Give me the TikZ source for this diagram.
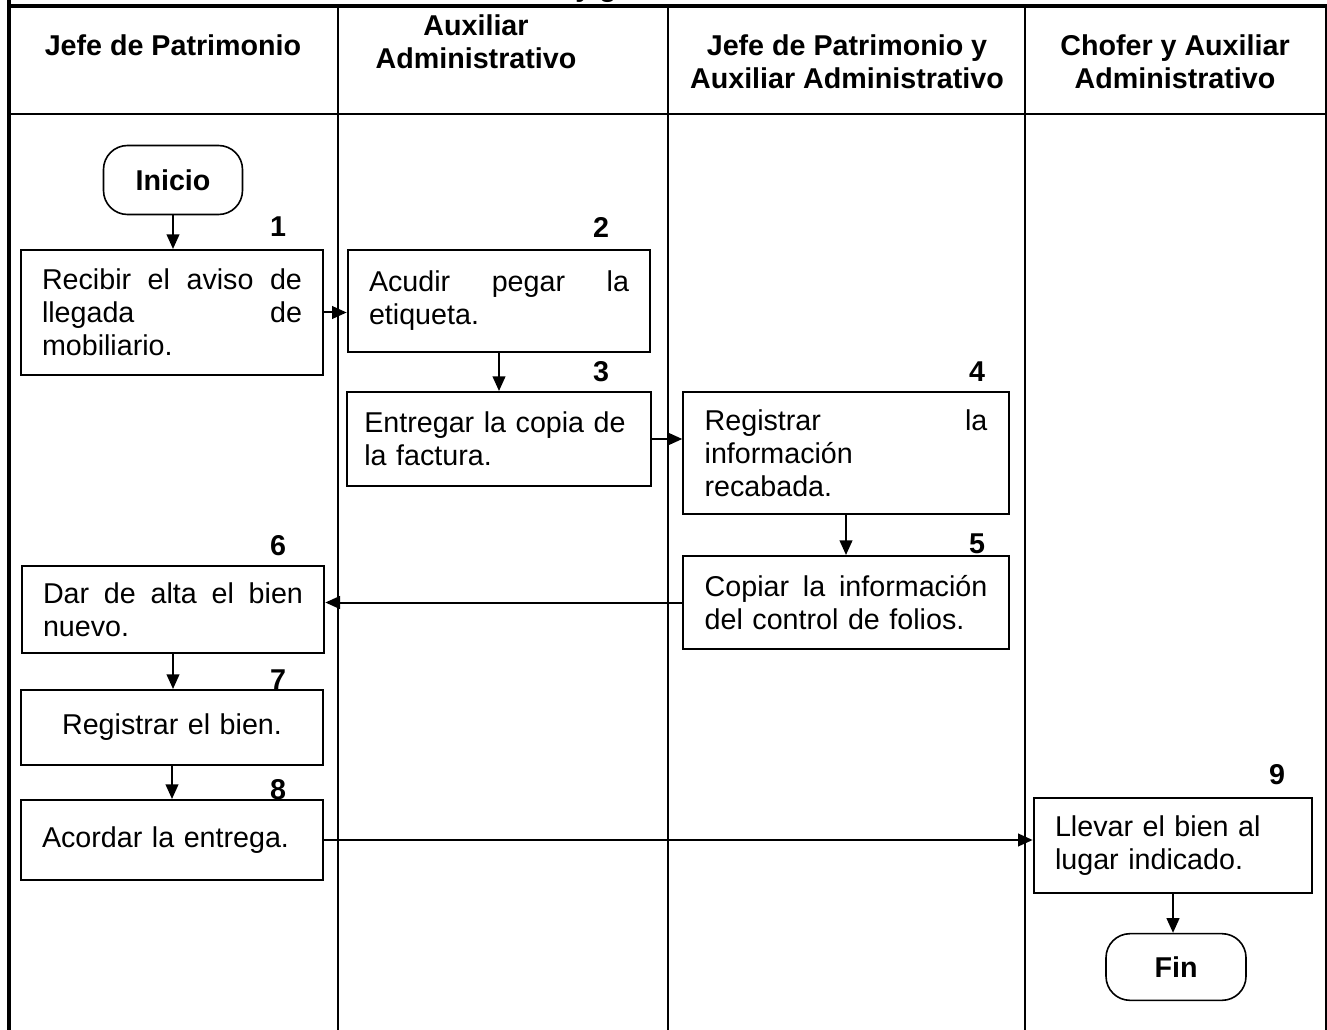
\documentclass[tikz,border=0pt]{standalone}
\usepackage{fontspec}
\setmainfont{Liberation Sans}
\usetikzlibrary{arrows.meta}

\tikzset{
  txt/.style={font=\fontsize{21.5pt}{24.75pt}\selectfont},
  bftxt/.style={font=\bfseries\fontsize{21.5pt}{24.75pt}\selectfont},
  procbox/.style={txt, draw, line width=1.5pt, align=left, inner xsep=16pt, inner ysep=2pt},
  termbox/.style={bftxt, draw, line width=1.2pt, rounded corners=18pt, inner sep=2pt},
  numlbl/.style={bftxt, inner sep=0pt},
  lane/.style={line width=1.5pt},
  flow/.style={line width=1.5pt, -{Triangle[length=11pt,width=9.5pt]}}
}

\begin{document}
\begin{tikzpicture}[x=0.75pt,y=0.75pt,yscale=-1,xscale=1]
\useasboundingbox (0,0) rectangle (1327,1030);

% Title Node (cut off at top)
\node[bftxt, anchor=base] (ttl) at (596,-3) {y g};

%Straight Lines: table frame
\draw[line width=3pt] (9,0) -- (9,1030);
\draw[line width=3pt] (9,6) -- (1327,6);
\draw[lane] (9,114) -- (1326,114);
\draw[lane] (1326,6) -- (1326,1030);
\draw[lane] (338,6) -- (338,1030);
\draw[lane] (668,6) -- (668,1030);
\draw[lane] (1025,6) -- (1025,1030);

% Text Node
\node[bftxt, align=center] (h1) at (173,45) {Jefe de Patrimonio};
% Text Node
\node[bftxt, align=center] (h2) at (476,42) {Auxiliar\\Administrativo};
% Text Node
\node[bftxt, align=center] (h3) at (847,62) {Jefe de Patrimonio y\\Auxiliar Administrativo};
% Text Node
\node[bftxt, align=center] (h4) at (1175,62) {Chofer y Auxiliar\\Administrativo};

%Rounded Rect
\node[termbox, minimum width=104.25pt, minimum height=51.75pt] (ini) at (173,180) {Inicio};

%Shape: Rectangle
\node[procbox, text width=195pt, minimum height=93.75pt] (b1) at (172,312.5)
  {Recibir\hfill el\hfill aviso\hfill de\\llegada\hfill de\\mobiliario.};
%Shape: Rectangle
\node[procbox, text width=195pt, minimum height=76.5pt] (b2) at (499,301)
  {Acudir\hfill pegar\hfill la\\etiqueta.};
%Shape: Rectangle
\node[procbox, text width=202pt, inner xsep=13pt, minimum height=70.5pt] (b3) at (499,439)
  {Entregar la copia de\\la factura.};
%Shape: Rectangle
\node[procbox, text width=212pt, minimum height=91.5pt] (b4) at (846,453)
  {Registrar\hfill la\\información\\recabada.};
%Shape: Rectangle
\node[procbox, text width=212pt, minimum height=69.75pt] (b5) at (846,602.5)
  {Copiar\hfill la\hfill información\\del control de folios.};
%Shape: Rectangle
\node[procbox, text width=195pt, minimum height=65.25pt] (b6) at (173,609.5)
  {Dar\hfill de\hfill alta\hfill el\hfill bien\\nuevo.};
%Shape: Rectangle
\node[procbox, text width=195pt, minimum height=56.25pt, align=center] (b7) at (172,727.5)
  {Registrar el bien.};
%Shape: Rectangle
\node[procbox, text width=195pt, minimum height=60pt] (b8) at (172,840)
  {Acordar la entrega.};
%Shape: Rectangle
\node[procbox, text width=177pt, minimum height=71.25pt] (b9) at (1173,845.5)
  {Llevar el bien al\\lugar indicado.};

%Rounded Rect
\node[termbox, minimum width=105pt, minimum height=50pt] (fin) at (1176,967) {Fin};

% Text Node
\node[numlbl] (n1) at (278,227) {1};
% Text Node
\node[numlbl] (n2) at (601,227) {2};
% Text Node
\node[numlbl] (n3) at (601,372) {3};
% Text Node
\node[numlbl] (n4) at (977,372) {4};
% Text Node
\node[numlbl] (n5) at (977,544) {5};
% Text Node
\node[numlbl] (n6) at (278,546) {6};
% Text Node
\node[numlbl] (n7) at (278,680) {7};
% Text Node
\node[numlbl] (n8) at (278,790) {8};
% Text Node
\node[numlbl] (n9) at (1277,775) {9};

%Straight Lines with arrows
\draw[flow] (ini.south) -- (ini.south |- b1.north);
\draw[flow] (b1.east) -- (b1.east -| b2.west);
\draw[flow] (b2.south) -- (b2.south |- b3.north);
\draw[flow] (b3.east) -- (b3.east -| b4.west);
\draw[flow] (b4.south) -- (b4.south |- b5.north);
\draw[flow] (b5.west) -- (b5.west -| b6.east);
\draw[flow] (b6.south) -- (b6.south |- b7.north);
\draw[flow] (b7.south) -- (b7.south |- b8.north);
\draw[flow] (b8.east) -- (b8.east -| b9.west);
\draw[flow] (b9.south) -- (b9.south |- fin.north);

\end{tikzpicture}
\end{document}
